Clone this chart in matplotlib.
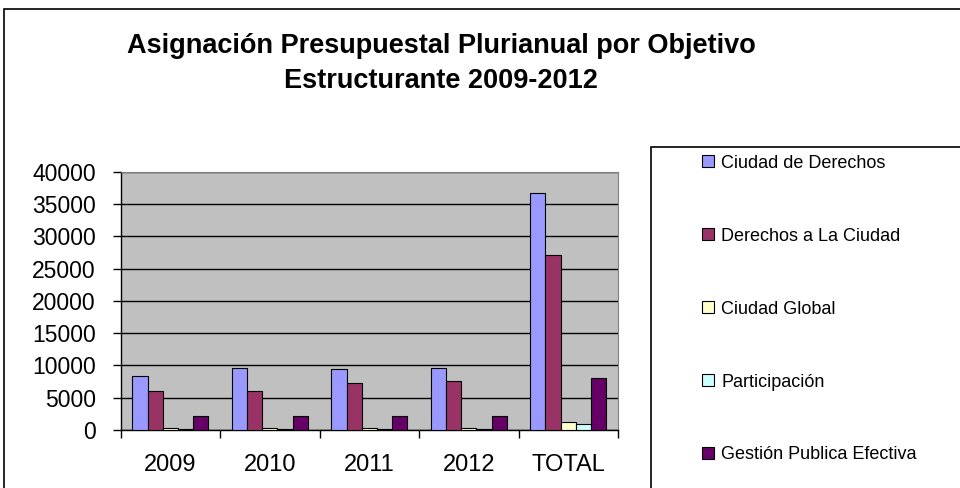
import numpy as np
import matplotlib.pyplot as plt
from matplotlib.patches import Rectangle

plt.rcParams['font.family'] = ['Liberation Sans', 'DejaVu Sans']

categorias = ['2009', '2010', '2011', '2012', 'TOTAL']
series = ['Ciudad de Derechos', 'Derechos a La Ciudad', 'Ciudad Global',
          'Participación', 'Gestión Publica Efectiva']
ciudad_derechos = [8400, 9600, 9400, 9600, 36750]
derechos_ciudad = [6000, 6000, 7200, 7600, 27050]
ciudad_global = [300, 300, 300, 300, 1200]
participacion = [220, 220, 220, 220, 880]
gestion_publica = [2100, 2100, 2100, 2100, 8100]
valores = [ciudad_derechos, derechos_ciudad, ciudad_global, participacion, gestion_publica]
colores = ['#9999FF', '#993366', '#FFFFCC', '#CCFFFF', '#660066']
titulo = ['Asignación Presupuestal Plurianual por Objetivo', 'Estructurante 2009-2012']

fig = plt.figure(figsize=(9.6, 4.88), dpi=100)
ax = fig.add_axes([0.1257, 0.1189, 0.5181, 0.5293])
ax.set_facecolor('#C0C0C0')

x = np.arange(len(categorias))
w = 0.153
for i, (vals, col, nom) in enumerate(zip(valores, colores, series)):
    ax.bar(x + (i - 2) * w, vals, width=w, color=col, edgecolor='black',
           linewidth=0.8, label=nom, zorder=3)

ax.set_ylim(0, 40000)
ax.set_xlim(-0.5, 4.5)
ax.set_yticks(np.arange(0, 40001, 5000))
ax.yaxis.grid(True, color='black', linewidth=1, zorder=1)
ax.set_axisbelow(True)

ax.set_xticks(x)
ax.set_xticklabels(categorias, fontsize=17)
ax.set_xticks(np.arange(-0.5, 4.6, 1), minor=True)
ax.tick_params(axis='x', which='major', length=0, pad=17)
ax.tick_params(axis='x', which='minor', length=6, width=1, direction='out')
ax.tick_params(axis='y', length=6, width=1, direction='out', labelsize=16.5, pad=12)

for lado in ['top', 'right']:
    ax.spines[lado].set_color('#808080')
for lado in ['left', 'bottom']:
    ax.spines[lado].set_color('black')
    ax.spines[lado].set_linewidth(1)

# titulo en dos lineas
fig.text(441 / 960, 1 - 52.7 / 488, titulo[0], ha='center', va='baseline',
         fontsize=19.5, fontweight='bold')
fig.text(441 / 960, 1 - 88 / 488, titulo[1], ha='center', va='baseline',
         fontsize=19.5, fontweight='bold')

# marco exterior y marco de la leyenda
fig.patches.append(Rectangle((4 / 960, -0.1), 1.2, 1.1 - 9 / 488, transform=fig.transFigure,
                             fill=False, edgecolor='black', linewidth=1.2))
fig.patches.append(Rectangle((651 / 960, -0.1), 1.2, 1.1 - 147 / 488, transform=fig.transFigure,
                             fill=False, edgecolor='black', linewidth=1.2))

fig.legend(loc='upper left', bbox_to_anchor=(0.724, 0.698), frameon=False,
           fontsize=13, handlelength=0.65, handleheight=0.65, handletextpad=0.4,
           labelspacing=3.1, borderaxespad=0)

fig.savefig('out.png', dpi=100)
